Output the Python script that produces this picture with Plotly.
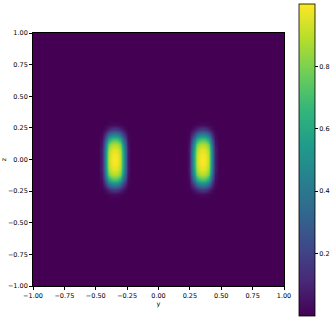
import numpy as np
import plotly.graph_objects as go

# regular grid (y horizontal, z vertical)
y_start, y_step, n_y = -1.0, 0.025, 81
z_start, z_step, n_z = -1.0, 0.04, 51

# spot centres (grid index of the centre cell)
spot_cols = [26, 54]   # y = -0.35 and y = 0.35
spot_row = 25          # z = 0.00

# intensity of one spot, rows bottom->top (dz -0.32..0.32), cols dy -0.125..0.125
spot = [
    [0.00, 0.00, 0.00, 0.00, 0.00, 0.00, 0.00, 0.00, 0.00, 0.00, 0.00],
    [0.00, 0.00, 0.00, 0.01, 0.02, 0.02, 0.02, 0.01, 0.00, 0.00, 0.00],
    [0.00, 0.00, 0.04, 0.10, 0.15, 0.17, 0.15, 0.10, 0.04, 0.00, 0.00],
    [0.00, 0.02, 0.15, 0.33, 0.42, 0.45, 0.42, 0.33, 0.15, 0.02, 0.00],
    [0.00, 0.04, 0.30, 0.60, 0.70, 0.73, 0.70, 0.60, 0.30, 0.04, 0.00],
    [0.00, 0.06, 0.42, 0.78, 0.87, 0.89, 0.87, 0.78, 0.42, 0.06, 0.00],
    [0.00, 0.08, 0.48, 0.86, 0.94, 0.96, 0.94, 0.86, 0.48, 0.08, 0.00],
    [0.00, 0.08, 0.50, 0.89, 0.97, 0.99, 0.97, 0.89, 0.50, 0.08, 0.00],
    [0.00, 0.08, 0.50, 0.90, 0.98, 1.00, 0.98, 0.90, 0.50, 0.08, 0.00],
    [0.00, 0.08, 0.50, 0.89, 0.97, 0.99, 0.97, 0.89, 0.50, 0.08, 0.00],
    [0.00, 0.08, 0.48, 0.86, 0.94, 0.96, 0.94, 0.86, 0.48, 0.08, 0.00],
    [0.00, 0.06, 0.42, 0.78, 0.87, 0.89, 0.87, 0.78, 0.42, 0.06, 0.00],
    [0.00, 0.04, 0.30, 0.60, 0.70, 0.73, 0.70, 0.60, 0.30, 0.04, 0.00],
    [0.00, 0.02, 0.15, 0.33, 0.42, 0.45, 0.42, 0.33, 0.15, 0.02, 0.00],
    [0.00, 0.00, 0.04, 0.10, 0.15, 0.17, 0.15, 0.10, 0.04, 0.00, 0.00],
    [0.00, 0.00, 0.00, 0.01, 0.02, 0.02, 0.02, 0.01, 0.00, 0.00, 0.00],
    [0.00, 0.00, 0.00, 0.00, 0.00, 0.00, 0.00, 0.00, 0.00, 0.00, 0.00],
]

axis_ticks = [-1.0, -0.75, -0.5, -0.25, 0.0, 0.25, 0.5, 0.75, 1.0]
cbar_ticks = [0.2, 0.4, 0.6, 0.8]

# zero background with the spot block dropped in at each centre
block = np.array(spot)
hr, hc = block.shape[0] // 2, block.shape[1] // 2
field = np.zeros((n_z, n_y))
for c in spot_cols:
    field[spot_row - hr:spot_row + hr + 1, c - hc:c + hc + 1] = block

fnt = dict(family='DejaVu Sans', size=6.5, color='#000000')

fig = go.Figure(go.Heatmap(
    z=field, x0=y_start, dx=y_step, y0=z_start, dy=z_step,
    colorscale='Viridis', zmin=0, zmax=1, zsmooth='best',
    colorbar=dict(
        x=1.06, xanchor='left', xpad=0,
        y=0.498, yanchor='middle', ypad=0,
        len=312, lenmode='pixels', thickness=16,
        outlinewidth=0.8, outlinecolor='#000000',
        tickvals=cbar_ticks, ticktext=[f'{v:.1f}' for v in cbar_ticks],
        ticks='outside', ticklen=3, tickwidth=0.8, tickcolor='#000000',
        tickfont=fnt,
    ),
))

fig.update_xaxes(
    range=[-1, 1], tickvals=axis_ticks, tickformat='.2f',
    ticks='outside', ticklen=3, tickwidth=0.8, tickcolor='#000000',
    showline=True, linecolor='#000000', linewidth=0.8, mirror=True,
    showgrid=False, zeroline=False, tickfont=fnt, automargin=False,
    title=dict(text='y', font=fnt, standoff=2),
)
fig.update_yaxes(
    range=[-1, 1], tickvals=axis_ticks, tickformat='.2f',
    ticks='outside', ticklen=3, tickwidth=0.8, tickcolor='#000000',
    showline=True, linecolor='#000000', linewidth=0.8, mirror=True,
    showgrid=False, zeroline=False, tickfont=fnt, automargin=False,
    title=dict(text='z', font=fnt, standoff=4),
)
fig.update_layout(
    width=332, height=320,
    margin=dict(l=33, r=48, t=33, b=34, autoexpand=False),
    paper_bgcolor='#ffffff', plot_bgcolor='#ffffff',
    font=fnt,
)

# page body has a default 8px margin; drop it so the figure sits at 0,0
fig.write_html("out.html", config={'displayModeBar': False},
               post_script="document.body.style.margin = '0';")
